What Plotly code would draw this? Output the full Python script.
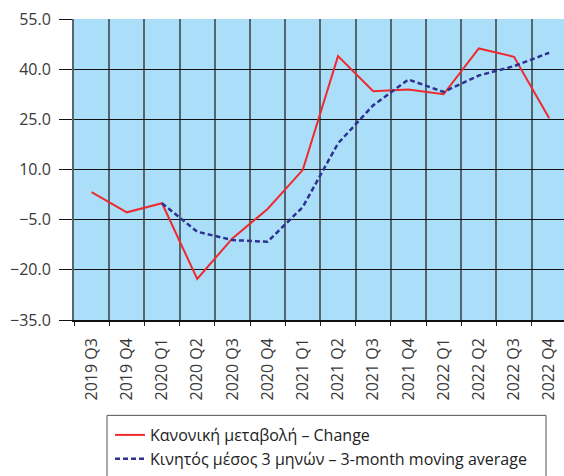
import plotly.graph_objects as go

# Quarterly categories
quarters = ["2019 Q3", "2019 Q4", "2020 Q1", "2020 Q2", "2020 Q3", "2020 Q4",
            "2021 Q1", "2021 Q2", "2021 Q3", "2021 Q4", "2022 Q1", "2022 Q2",
            "2022 Q3", "2022 Q4"]

# Normal change (%)
change = [3.2, -2.8, -0.1, -22.7, -10.6, -1.8, 9.9, 43.9, 33.4, 33.9, 32.5,
          46.2, 43.7, 25.3]

# 3-month moving average (starts at 2020 Q1)
ma_quarters = quarters[2:]
moving_avg = [-0.1, -8.6, -11.1, -11.6, -1.2, 17.8, 29.2, 36.9, 33.2, 38.1,
              40.9, 44.9]

y_ticks = [-35, -20, -5, 10, 25, 40, 55]

W, H = 564, 476
ML, MR, MT, MB = 74, 0, 19, 154
plot_w = W - ML - MR
plot_h = H - MT - MB


def px_x(px):
    return (px - ML) / plot_w


def px_y(py):
    return (H - MB - py) / plot_h


fig = go.Figure()
fig.add_trace(go.Scatter(
    x=quarters, y=change, mode="lines",
    name="Κανονική μεταβολή – Change",
    line=dict(color="#ee2a2e", width=2),
))
fig.add_trace(go.Scatter(
    x=ma_quarters, y=moving_avg, mode="lines",
    name="Κινητός μέσος 3 μηνών – 3-month moving average",
    line=dict(color="#2e3192", width=2.5, dash="5px,3px"),
))

fig.update_layout(
    width=W, height=H,
    margin=dict(l=ML, r=MR, t=MT, b=MB, pad=0),
    paper_bgcolor="white",
    plot_bgcolor="#abdff9",
    font=dict(family="Open Sans, Noto Sans, sans-serif", color="#3a3a3a"),
    showlegend=True,
    legend=dict(
        x=px_x(110), y=px_y(421), xanchor="left", yanchor="top",
        bgcolor="rgba(0,0,0,0)", borderwidth=0,
        font=dict(size=16, color="#222222"),
        tracegroupgap=0, itemwidth=30,
    ),
    xaxis=dict(
        type="category",
        categoryorder="array", categoryarray=quarters,
        range=[-0.5, -0.5 + plot_w / 35.2],
        tickson="boundaries",
        showgrid=True, gridcolor="#55666f", gridwidth=2,
        ticks="outside", ticklen=4, tickcolor="#222222",
        tickangle=-90, tickfont=dict(size=16, color="#3a3a3a"),
        ticklabelstandoff=10,
        showline=True, linecolor="#111111", linewidth=1.5,
        fixedrange=True,
    ),
    yaxis=dict(
        range=[-35, 55], tickvals=y_ticks, tickformat=".1f",
        showgrid=True, gridcolor="#111111", gridwidth=1.2,
        zeroline=False,
        ticks="outside", ticklen=13, tickcolor="#111111",
        tickfont=dict(size=16, color="#3a3a3a"),
        ticklabelstandoff=5,
        showline=True, linecolor="#55666f", linewidth=2,
        fixedrange=True,
    ),
    shapes=[dict(
        type="rect", xref="paper", yref="paper",
        x0=px_x(107), x1=px_x(546), y0=px_y(418), y1=px_y(500),
        line=dict(color="#555555", width=1), fillcolor="rgba(0,0,0,0)",
    )],
)

fig.write_html("out.html")
